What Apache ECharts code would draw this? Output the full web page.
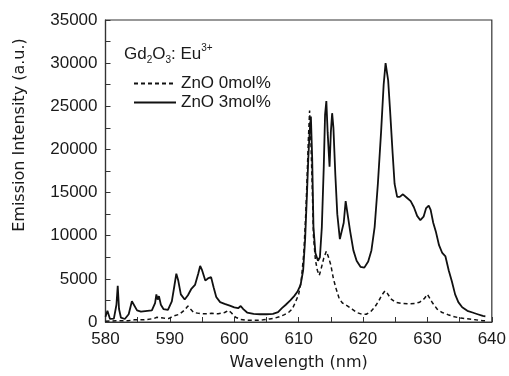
<!DOCTYPE html>
<html>
<head>
<meta charset="utf-8">
<script src="https://cdn.jsdelivr.net/npm/echarts@6/dist/echarts.min.js"></script>
<style>html,body{margin:0;padding:0;background:#fff}#c{width:509px;height:376px}</style>
</head>
<body>
<div id="c"></div>
<script>
// ZnO 3mol% (solid)
var wl3 = [580.0,580.3,580.7,581.3,581.7,581.9,582.1,582.4,583.0,583.6,584.1,584.4,584.9,585.5,586.5,587.2,587.7,587.9,588.1,588.3,588.6,589.0,589.7,590.3,590.7,591.0,591.3,591.7,592.3,592.8,593.3,593.9,594.4,594.7,595.0,595.5,596.0,596.4,596.8,597.2,597.8,598.5,599.3,600.0,600.6,601.0,601.4,602.0,603.0,604.0,605.0,606.0,606.8,607.4,608.0,608.7,609.3,609.8,610.3,610.7,611.0,611.3,611.5,611.7,611.9,612.1,612.3,612.6,613.0,613.3,613.6,613.9,614.1,614.3,614.5,614.8,615.0,615.2,615.4,615.7,616.0,616.4,616.7,617.0,617.3,617.6,618.0,618.5,619.0,619.6,620.2,620.8,621.3,621.8,622.3,622.8,623.2,623.5,623.7,623.9,624.2,624.6,624.9,625.3,625.7,626.2,626.8,627.4,627.9,628.4,628.9,629.4,629.8,630.2,630.5,630.9,631.3,631.8,632.3,632.8,633.3,633.8,634.3,634.8,635.4,636.2,637.0,637.8,638.6,639.0];
var int3 = [600,1300,350,400,2000,4200,1500,500,350,900,2400,2200,1350,1200,1300,1350,2200,3200,2600,3000,2000,1500,1400,2400,4200,5600,4800,3200,2600,3100,3800,4300,5600,6500,6000,4800,5100,5200,4000,2900,2300,2100,1900,1700,1600,1850,1500,1100,950,900,900,950,1150,1600,2000,2500,3000,3500,4300,6000,9500,15000,19000,22000,23800,19000,11000,8000,7100,7500,11000,18000,24000,25600,22000,18000,22000,24200,22500,17000,12500,9600,9400,11500,14000,12500,10500,8300,7100,6400,6300,7000,8300,11000,16000,22000,27500,30000,29800,28000,24500,19500,16000,14500,14500,14800,14400,14000,13300,12300,11800,12200,13200,13500,13000,11500,10500,8900,8000,7600,6000,4700,3200,2300,1700,1300,1100,900,700,650];
// ZnO 0mol% (dashed)
var wl0 = [580.0,582.0,583.5,584.5,586.0,587.5,588.0,589.0,589.8,590.6,591.5,592.3,592.8,593.2,593.7,594.5,595.5,596.5,597.5,598.5,599.1,599.5,600.2,601.0,602.0,603.5,604.5,605.5,606.3,607.0,607.8,608.5,609.0,609.5,610.0,610.4,610.8,611.1,611.3,611.5,611.7,611.9,612.1,612.3,612.6,612.9,613.2,613.5,613.9,614.3,614.6,615.0,615.4,615.8,616.3,616.8,617.5,618.3,619.0,619.8,620.5,621.2,621.8,622.4,622.9,623.4,623.8,624.3,625.0,626.0,627.0,628.0,628.8,629.5,630.0,630.3,630.8,631.5,632.3,633.2,634.2,635.2,636.5,637.5,638.6,639.0];
var int0 = [100,150,150,250,250,400,550,450,400,700,900,1400,1850,1500,1100,1000,950,1000,950,1100,1350,1100,550,300,200,200,250,350,450,600,850,1150,1500,2300,3200,4800,8000,12500,16500,21000,24500,21000,16000,10000,7200,6000,5400,6200,7400,8200,7600,6600,5000,3900,2700,2200,1900,1500,1100,900,900,1200,1700,2400,3100,3600,3300,2700,2300,2150,2100,2150,2300,2700,3200,3100,2200,1500,1100,850,600,450,350,250,150,150];
var seriesNames = ['ZnO 0mol%', 'ZnO 3mol%'];
var xTicks = [580, 590, 600, 610, 620, 630, 640];
var yTicks = [0, 5000, 10000, 15000, 20000, 25000, 30000, 35000];

function pairs(xs, ys) { return xs.map(function (x, i) { return [x, ys[i]]; }); }

var FONT = 'Liberation Sans, Arial, sans-serif';
var NFONT = 'DejaVu Sans, sans-serif';
var TXT = '#1a1a1a';
var chart = echarts.init(document.getElementById('c'), null, {renderer: 'canvas'});
chart.setOption({
  animation: false,
  backgroundColor: '#fff',
  title: {
    left: 119, top: 38,
    text: 'Gd{sub|2}O{sub|3}: Eu{sup|3+}',
    textStyle: {
      fontFamily: FONT, fontSize: 17, fontWeight: 'normal', color: TXT, lineHeight: 22,
      rich: {
        sub: {fontFamily: FONT, fontSize: 10, color: TXT, verticalAlign: 'bottom', lineHeight: 22},
        sup: {fontFamily: FONT, fontSize: 10, color: TXT, verticalAlign: 'top', lineHeight: 22}
      }
    }
  },
  legend: {
    orient: 'vertical', left: 128, top: 70,
    itemWidth: 42, itemHeight: 20, itemGap: 2,
    data: seriesNames,
    itemStyle: {color: 'rgba(0,0,0,0)', borderWidth: 0, opacity: 0},
    textStyle: {fontFamily: FONT, fontSize: 17, color: TXT}
  },
  grid: {left: 105.5, right: 16, top: 20, bottom: 54, show: true, borderColor: '#333', borderWidth: 1.2, backgroundColor: 'transparent'},
  xAxis: {
    type: 'value', min: xTicks[0], max: xTicks[xTicks.length - 1], interval: 10,
    name: 'Wavelength (nm)', nameLocation: 'middle', nameGap: 33,
    nameTextStyle: {fontFamily: NFONT, fontSize: 16, color: TXT},
    axisLine: {lineStyle: {color: '#333', width: 1.2}},
    axisTick: {inside: true, length: 5, lineStyle: {color: '#333'}},
    minorTick: {show: true, splitNumber: 2, length: 5, lineStyle: {color: '#333'}},
    axisLabel: {fontFamily: FONT, fontSize: 17, color: TXT, margin: 9},
    splitLine: {show: false}
  },
  yAxis: {
    type: 'value', min: yTicks[0], max: yTicks[yTicks.length - 1], interval: 5000,
    name: 'Emission Intensity (a.u.)', nameLocation: 'middle', nameGap: 78,
    nameTextStyle: {fontFamily: NFONT, fontSize: 16, color: TXT, padding: [0, 0, 0, 72]},
    axisLine: {lineStyle: {color: '#333', width: 1.2}},
    axisTick: {inside: true, length: 5, lineStyle: {color: '#333'}},
    minorTick: {show: true, splitNumber: 2, length: 5, lineStyle: {color: '#333'}},
    axisLabel: {fontFamily: FONT, fontSize: 17, color: TXT, margin: 8, formatter: function (v) { return String(v); }},
    splitLine: {show: false}
  },
  series: [
    {name: seriesNames[0], type: 'line', data: pairs(wl0, int0), symbol: 'none', showSymbol: false,
     lineStyle: {color: '#111', width: 1.5, type: [4, 3]}, itemStyle: {color: '#111'}},
    {name: seriesNames[1], type: 'line', data: pairs(wl3, int3), symbol: 'none', showSymbol: false,
     lineStyle: {color: '#111', width: 1.8, type: 'solid'}, itemStyle: {color: '#111'}}
  ]
});
</script>
</body>
</html>
